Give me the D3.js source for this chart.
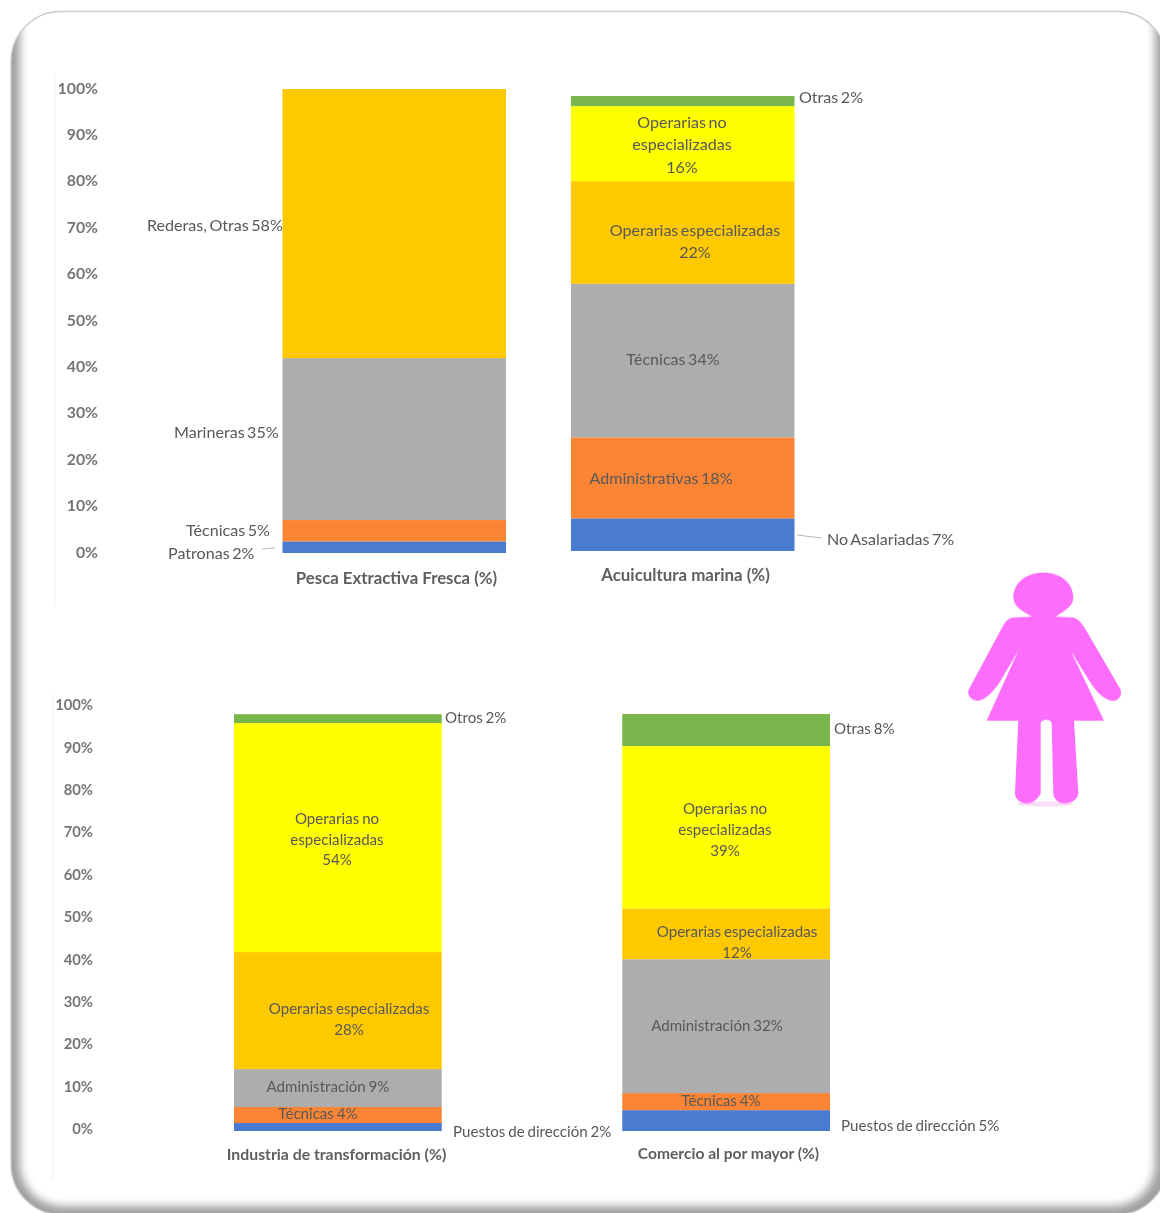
<!DOCTYPE html>
<html><head><meta charset="utf-8">
<script src="https://cdn.jsdelivr.net/npm/d3@7/dist/d3.min.js"></script>
<style>html,body{margin:0;padding:0;background:#fff}svg{display:block}text{font-family:Lato,"Open Sans",sans-serif}</style>
</head><body><svg id="c" width="1160" height="1213"></svg>
<script>
// ---- data ----
const tickValues = [0,10,20,30,40,50,60,70,80,90,100];
const topCategories = ["Pesca Extractiva Fresca (%)","Acuicultura marina (%)"];
const bottomCategories = ["Industria de transformación (%)","Comercio al por mayor (%)"];
const pescaValues = [2.5,4.6,34.9,58];
const acuiculturaValues = [7.1,17.6,33.4,22.3,16.3,2.2];
const industriaValues = [1.9,3.8,9,27.8,54.4,2.1];
const comercioValues = [5,4.1,32.1,12.2,38.9,7.7];
const pescaColors = ["#4a7bd0","#fb8535","#adadad","#ffc905"];
const stackColors = ["#4a7bd0","#fb8535","#adadad","#ffc905","#ffff00","#78b54c"];
const pescaLabels = [
 ["Patronas 2%"],["Técnicas 5%"],["Marineras 35%"],["Rederas, Otras 58%"]];
const acuiculturaLabels = [
 ["No Asalariadas 7%"],["Administrativas 18%"],["Técnicas 34%"],["Operarias especializadas","22%"],["Operarias no","especializadas","16%"],["Otras 2%"]];
const industriaLabels = [
 ["Puestos de dirección 2%"],["Técnicas 4%"],["Administración 9%"],["Operarias especializadas","28%"],["Operarias no","especializadas","54%"],["Otros 2%"]];
const comercioLabels = [
 ["Puestos de dirección 5%"],["Técnicas 4%"],["Administración 32%"],["Operarias especializadas","12%"],["Operarias no","especializadas","39%"],["Otras 8%"]];

// ---- layout (label anchors in page pixels: x, first-line y, anchor) ----
const pescaPos = [[168,551.5,"start"],[186,528.5,"start"],[174,430.5,"start"],[147,223.5,"start"]];
const acuiculturaPos = [[827,537.5,"start"],[661,476.5,"middle"],[673,357.5,"middle"],[695,228.5,"middle"],[682,120.5,"middle"],[799,95.5,"start"]];
const industriaPos = [[453,1131,"start"],[318,1113,"middle"],[328,1086,"middle"],[349,1008,"middle"],[337,818,"middle"],[445,717,"start"]];
const comercioPos = [[841,1125,"start"],[721,1100,"middle"],[717,1025,"middle"],[737,931,"middle"],[725,808,"middle"],[834,728,"start"]];

const svg = d3.select("#c");
const defs = svg.append("defs");
defs.append("filter").attr("id","soft").attr("x","-5%").attr("y","-5%").attr("width","110%").attr("height","110%")
  .append("feGaussianBlur").attr("stdDeviation",0.45);
defs.append("filter").attr("id","soft2").attr("x","-5%").attr("y","-5%").attr("width","110%").attr("height","110%")
  .append("feGaussianBlur").attr("stdDeviation",0.7);
defs.append("filter").attr("id","bevel").attr("x","-5%").attr("y","-5%").attr("width","110%").attr("height","110%")
  .append("feGaussianBlur").attr("stdDeviation",4);
defs.append("clipPath").attr("id","frame").append("rect")
  .attr("x",11).attr("y",11).attr("width",1156).attr("height",1204).attr("rx",50);

// ---- frame ----
svg.append("rect").attr("width",1160).attr("height",1213).attr("fill","#fff");
const fr = svg.append("g").attr("clip-path","url(#frame)");
fr.append("rect").attr("x",0).attr("y",0).attr("width",1160).attr("height",1213).attr("fill","#a0a0a0");
fr.append("rect").attr("x",20).attr("y",-10).attr("width",1135).attr("height",1216).attr("rx",42)
  .attr("fill","#fff").attr("filter","url(#bevel)");
svg.append("rect").attr("x",11).attr("y",11.5).attr("width",1156).attr("height",1203).attr("rx",50)
  .attr("fill","none").attr("stroke","#cccccc").attr("stroke-width",1.3);

// ---- charts ----
const ink = "#585858";
const chart = svg.append("g").attr("filter","url(#soft)");

function axis(x, lineX, y0, y100, y1, y2, size){
  const s = d3.scaleLinear().domain([0,100]).range([y0,y100]);
  chart.append("line").attr("x1",lineX).attr("x2",lineX).attr("y1",y1).attr("y2",y2).attr("stroke","#eeeeee");
  const g = chart.append("g").attr("transform",`translate(${x},0)`)
    .call(d3.axisLeft(s).tickValues(tickValues).tickFormat(d=>d+"%").tickSize(0).tickPadding(0));
  g.select(".domain").remove();
  g.selectAll("text").attr("fill","#757575").attr("font-size",size).attr("font-weight",700).attr("font-family","Lato");
}
axis(98,55,552,88,73,606,15.8);
axis(93,53,1129,705,695,1180,14.8);

function stack(x, cat, vals, cols, labels, pos, y0, k, fs, lh, ws){
  const y = d3.scaleLinear().domain([0,100]).range([y0, y0-100*k]);
  let acc = 0;
  const segs = vals.map((v,i)=>{const s={a:acc,b:acc+v,c:cols[i]};acc+=v;return s;});
  chart.append("g").selectAll("rect").data(segs).join("rect")
    .attr("x",x(cat)).attr("width",x.bandwidth())
    .attr("y",d=>y(d.b)).attr("height",d=>y(d.a)-y(d.b)).attr("fill",d=>d.c);
  labels.forEach((lines,i)=>{
    const t = chart.append("text").attr("x",pos[i][0]).attr("y",pos[i][1]).attr("word-spacing",ws)
      .attr("text-anchor",pos[i][2]).attr("font-size",fs).attr("fill",ink).attr("dominant-baseline","central");
    lines.forEach((l,j)=>t.append("tspan").attr("x",pos[i][0]).attr("y",pos[i][1]+j*lh).text(l));
  });
}
const xTop = d3.scaleBand().domain(topCategories).range([282.5,794.5]).paddingInner(0.225);
const xBot = d3.scaleBand().domain(bottomCategories).range([234,830]).paddingInner(0.465);
stack(xTop,topCategories[0],pescaValues,pescaColors,pescaLabels,pescaPos,553,4.64,16.1,22,-1.6);
stack(xTop,topCategories[1],acuiculturaValues,stackColors,acuiculturaLabels,acuiculturaPos,551,4.6,16.1,22.5,-1.6);
stack(xBot,bottomCategories[0],industriaValues,stackColors,industriaLabels,industriaPos,1131,4.21,15.1,20.7,-1);
stack(xBot,bottomCategories[1],comercioValues,stackColors,comercioLabels,comercioPos,1131,4.17,15.1,21,-1);

// category titles
[[topCategories[0],396.5,577,16.8],[topCategories[1],685.5,574.5,16.9],[bottomCategories[0],336.5,1153,15.8],[bottomCategories[1],728.5,1153,15.6]]
 .forEach(d=>chart.append("text").attr("x",d[1]).attr("y",d[2]).attr("text-anchor","middle")
   .attr("dominant-baseline","central").attr("font-size",d[3]).attr("font-weight",700).attr("fill","#5e5e5e").text(d[0]));

// leader lines
[[262,549,275,548],[797,535,822,538]].forEach(d=>chart.append("line")
  .attr("x1",d[0]).attr("y1",d[1]).attr("x2",d[2]).attr("y2",d[3]).attr("stroke","#b5b5b5"));

// ---- pink figure ----
const figure = "M245,170 C225,155 190,145 190,110 C192,70 225,38 280,38 C335,38 368,70 370,110 C370,145 335,155 318,170 L368,172 C385,175 395,190 405,205 L510,385 C520,405 505,425 485,422 C462,420 440,395 424,372 L362,272 L462,482 L372,482 L385,700 C385,715 365,730 345,730 C325,730 310,715 310,700 L305,490 C303,475 275,475 272,490 L272,700 C265,715 250,730 230,730 C210,730 195,715 195,700 L205,482 L110,482 L205,272 L146,372 C125,400 100,425 80,422 C60,420 48,400 58,385 L155,205 C165,185 175,172 195,172 Z";
svg.append("ellipse").attr("cx",1045).attr("cy",804).attr("rx",28).attr("ry",2.5).attr("fill","#f9dcf6").attr("filter","url(#soft2)");
svg.append("path").attr("d",figure).attr("transform","translate(950,560) scale(0.3333)")
  .attr("fill","#fd6dfb").attr("filter","url(#soft2)");
</script></body></html>
